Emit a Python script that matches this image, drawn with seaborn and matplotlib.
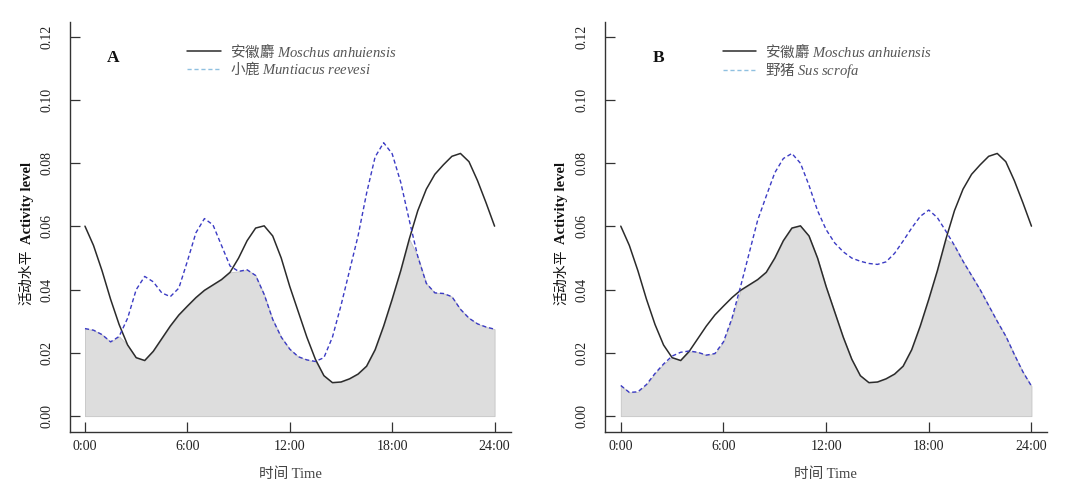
import numpy as np
import pandas as pd
import seaborn as sns
import matplotlib.pyplot as plt

# hours of day, half-hour steps
hours = np.arange(0, 24.5, 0.5)

moschus = [0.0601, 0.054, 0.046, 0.037, 0.029, 0.0225, 0.0185, 0.0176, 0.0205, 0.0245,
           0.0285, 0.032, 0.0348, 0.0375, 0.0398, 0.0415, 0.0432, 0.0455, 0.050, 0.0555,
           0.0595, 0.0602, 0.057, 0.050, 0.041, 0.033, 0.025, 0.018, 0.0128, 0.0106,
           0.0108, 0.0118, 0.0133, 0.0158, 0.021, 0.0285, 0.037, 0.046, 0.056, 0.065,
           0.0718, 0.0765, 0.0795, 0.0822, 0.0831, 0.0805, 0.0745, 0.0675, 0.0601]

muntiacus = [0.0277, 0.0272, 0.0258, 0.0235, 0.0252, 0.031, 0.040, 0.0442, 0.0425, 0.039,
             0.0378, 0.0405, 0.049, 0.058, 0.0625, 0.0605, 0.054, 0.0475, 0.0458, 0.0463,
             0.0445, 0.0385, 0.0306, 0.025, 0.0212, 0.0188, 0.0178, 0.0173, 0.0185, 0.025,
             0.035, 0.046, 0.057, 0.0705, 0.082, 0.0865, 0.083, 0.074, 0.062, 0.0505,
             0.042, 0.039, 0.0388, 0.0378, 0.0338, 0.031, 0.0292, 0.0282, 0.0275]

sus = [0.0097, 0.0075, 0.0077, 0.010, 0.0135, 0.0165, 0.019, 0.0202, 0.0206, 0.0202,
       0.0193, 0.0198, 0.0235, 0.031, 0.041, 0.0515, 0.062, 0.0696, 0.077, 0.0815,
       0.0831, 0.080, 0.073, 0.065, 0.059, 0.0548, 0.052, 0.050, 0.049, 0.0483,
       0.048, 0.0488, 0.0515, 0.0554, 0.0595, 0.0632, 0.0652, 0.0628, 0.0585, 0.054,
       0.049, 0.0445, 0.040, 0.035, 0.030, 0.0253, 0.0195, 0.014, 0.0095]

panels = [
    ('A', '小鹿', 'Muntiacus\\ reevesi', muntiacus),
    ('B', '野猪', 'Sus\\ scrofa', sus),
]
x_ticks = [0, 6, 12, 18, 24]
x_ticklabels = ['0:00', '6:00', '12:00', '18:00', '24:00']
y_ticks = [0.00, 0.02, 0.04, 0.06, 0.08, 0.10, 0.12]

sns.set_style('ticks')
fams = ['Liberation Serif', 'Noto Sans CJK SC']
plt.rcParams['font.family'] = fams
plt.rcParams['mathtext.fontset'] = 'custom'
plt.rcParams['mathtext.it'] = 'Liberation Serif:italic'
plt.rcParams['mathtext.rm'] = 'Liberation Serif'

fig = plt.figure(figsize=(10.8, 4.99), dpi=100)
axes_pos = [
    ([0.0648, 0.134, 0.408, 0.822], (-0.878, 24.94)),
    ([0.560, 0.134, 0.409, 0.822], (-0.934, 24.88)),
]

for (letter, cn, latin, other), (pos, xlim) in zip(panels, axes_pos):
    ax = fig.add_axes(pos)
    df = pd.DataFrame({'hour': hours, 'moschus': moschus, 'other': other})

    # overlap area
    ax.fill_between(df['hour'], 0, np.minimum(df['moschus'], df['other']),
                    color='#dddddd', edgecolor='#c4c4c4', linewidth=0.6, zorder=1)

    sns.lineplot(data=df, x='hour', y='moschus', ax=ax, color='#2b2b2b', linewidth=1.1,
                 label='安徽麝 $\\it{Moschus\\ anhuiensis}$', zorder=3)
    sns.lineplot(data=df, x='hour', y='other', ax=ax, color='#3b3bc4', linewidth=1.0,
                 linestyle=(0, (3, 2)), label=cn + ' $\\it{' + latin + '}$', zorder=3)

    ax.set_xlim(*xlim)
    ax.set_ylim(-0.00506, 0.1247)
    ax.set_xticks(x_ticks)
    ax.set_xticklabels(x_ticklabels, fontsize=10)
    ax.set_yticks(y_ticks)
    ax.set_yticklabels([f'{v:.2f}' for v in y_ticks], fontsize=10, rotation=90, va='center')
    ax.tick_params(direction='in', length=7, width=0.9, colors='#333333', labelcolor='#222222')
    ax.tick_params(axis='y', pad=12)
    ax.tick_params(axis='x', pad=6)
    for s in ['top', 'right']:
        ax.spines[s].set_visible(False)
    for s in ['left', 'bottom']:
        ax.spines[s].set_color('#333333')
        ax.spines[s].set_linewidth(1.0)

    ax.set_xlabel('时间 Time', fontsize=10.5, color='#444444', labelpad=10)
    ax.set_ylabel('')
    ax.text(-0.0975, 0.558, 'Activity level', transform=ax.transAxes, rotation=90,
            fontsize=10.5, fontweight='bold', ha='center', va='center', color='#111111')
    ax.text(-0.0975, 0.378, '活动水平', transform=ax.transAxes, rotation=90,
            fontsize=10, ha='center', va='center', color='#111111')

    ax.text(1.64 if letter == 'A' else 2.2, 0.1133, letter, fontsize=12.5,
            fontweight='bold', ha='center', va='center', color='#111111')

    leg = ax.legend(loc='upper left', bbox_to_anchor=(0.25, 0.968), frameon=False,
                    prop={'family': ['Noto Sans CJK SC', 'Liberation Serif'], 'size': 10.5},
                    handlelength=2.3, handletextpad=0.6, labelspacing=0.02, borderpad=0)
    for t in leg.get_texts():
        t.set_color('#555555')
    leg.get_lines()[1].set_color('#8fc0e0')

fig.savefig('out.png', dpi=100)
